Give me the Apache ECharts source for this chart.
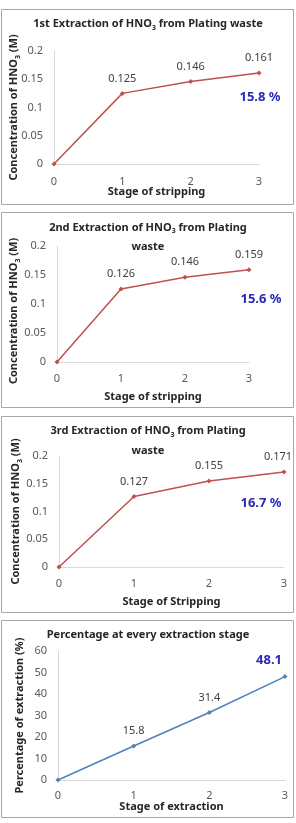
<!DOCTYPE html>
<html>
<head>
<meta charset="utf-8">
<script src="https://cdn.jsdelivr.net/npm/echarts@6/dist/echarts.min.js"></script>
<style>
  html, body { margin: 0; padding: 0; background: #fff; }
  #chart { width: 296px; height: 823px; }
</style>
</head>
<body>
<div id="chart"></div>
<script>
// data
const stages = ["0", "1", "2", "3"];
const ext1 = [0, 0.125, 0.146, 0.161];
const ext2 = [0, 0.126, 0.146, 0.159];
const ext3 = [0, 0.127, 0.155, 0.171];
const pctTotal = [0, 15.8, 31.4, 48.1];
const extPercent = ["15.8 %", "15.6 %", "16.7 %"];
const titles = [
  "1st Extraction of HNO{sub|3} from Plating waste",
  "2nd Extraction of HNO{sub|3} from Plating\nwaste",
  "3rd Extraction of HNO{sub|3} from Plating\nwaste",
  "Percentage at every extraction stage",
];
const xNames = ["Stage of stripping", "Stage of stripping", "Stage of Stripping", "Stage of extraction"];
const yNames = [
  "Concentration of HNO{sub|3} (M)",
  "Concentration of HNO{sub|3} (M)",
  "Concentration of HNO{sub|3} (M)",
  "Percentage of extraction (%)",
];

const FONT = "Noto Sans";
const RED = "#c0504d";
const BLUE = "#4f81bd";
const ANNOT = "#2a2ab8";

// panel frames [x, y, w, h]
const frames = [
  [1.5, 9.5, 292, 195],
  [1.5, 212.5, 292, 195],
  [1.5, 416.5, 292, 196],
  [1.5, 620.5, 292, 197],
];
const grids = [
  { left: 54, top: 51, width: 205, height: 113, outerBoundsMode: "none" },
  { left: 57, top: 246, width: 192, height: 116, outerBoundsMode: "none" },
  { left: 59, top: 456, width: 225, height: 111, outerBoundsMode: "none" },
  { left: 58, top: 651, width: 227, height: 129, outerBoundsMode: "none" },
];
const titleTops = [16, 218, 421, 627];
const titleLH = [16, 19, 20, 16];
const xNameGap = [22, 29, 29, 21];
const xLabelMargin = [12, 11, 11, 10];
const yNameGap = [33, 36, 36, 33];
const yNamePad = [[0, 0, 0, 0], [0, 14, 0, 0], [0, 0, 0, 0], [0, 0, 0, 0]];

// subscript "3" in HNO3
const subRich = {
  sub: { fontSize: 7, fontWeight: "bold", fontFamily: FONT, color: "#262626", verticalAlign: "middle", padding: [7, 0, 0, 0] },
};

function labelData(values, lastOffset) {
  return values.map((v, i) => {
    if (i === 0) return { value: v, label: { show: false } };
    if (i === values.length - 1 && lastOffset) return { value: v, label: { offset: lastOffset } };
    return v;
  });
}

const seriesData = [ext1, ext2, ext3];
const lastOffsets = [null, null, [-6, 0]];

let option = {
  backgroundColor: "#fff",
  animation: false,
  title: titles.map((t, i) => ({
    text: t,
    left: "center",
    top: titleTops[i],
    padding: 0,
    textStyle: {
      fontFamily: FONT,
      fontSize: 11,
      fontWeight: "bold",
      color: "#262626",
      lineHeight: titleLH[i],
      rich: subRich,
    },
  })),
  grid: grids,
  xAxis: grids.map((g, i) => ({
    gridIndex: i,
    type: "category",
    boundaryGap: false,
    data: stages,
    name: xNames[i],
    nameLocation: "middle",
    nameGap: xNameGap[i],
    nameMoveOverlap: false,
    nameTextStyle: { fontFamily: FONT, fontSize: 11, fontWeight: "bold", color: "#262626" },
    axisLine: { lineStyle: { color: "#d9d9d9" } },
    axisTick: { show: false },
    axisLabel: { margin: xLabelMargin[i], fontFamily: FONT, fontSize: 11, color: "#595959" },
    splitLine: { show: false },
  })),
  yAxis: grids.map((g, i) => ({
    gridIndex: i,
    type: "value",
    min: 0,
    max: i < 3 ? 0.2 : 60,
    interval: i < 3 ? 0.05 : 10,
    name: yNames[i],
    nameLocation: "middle",
    nameRotate: 90,
    nameGap: yNameGap[i],
    nameMoveOverlap: false,
    nameTextStyle: {
      fontFamily: FONT,
      fontSize: 11,
      fontWeight: "bold",
      color: "#262626",
      padding: yNamePad[i],
      rich: subRich,
    },
    axisLine: { show: true, lineStyle: { color: "#d9d9d9" } },
    axisTick: { show: false },
    axisLabel: { margin: 11, fontFamily: FONT, fontSize: 11, color: "#595959" },
    splitLine: { show: false },
  })),
  series: [
    ...seriesData.map((d, i) => ({
      type: "line",
      xAxisIndex: i,
      yAxisIndex: i,
      data: labelData(d, lastOffsets[i]),
      symbol: "diamond",
      symbolSize: 5,
      lineStyle: { color: RED, width: 1.5 },
      itemStyle: { color: RED },
      label: { show: true, position: "top", distance: 7, fontFamily: FONT, fontSize: 11, color: "#404040" },
    })),
    {
      type: "line",
      xAxisIndex: 3,
      yAxisIndex: 3,
      data: pctTotal.map((v, i) => {
        if (i === 0) return { value: v, label: { show: false } };
        if (i === pctTotal.length - 1)
          return {
            value: v,
            label: { fontSize: 13, fontWeight: "bold", color: ANNOT, offset: [-16, 0], distance: 7 },
          };
        return v;
      }),
      symbol: "diamond",
      symbolSize: 5,
      lineStyle: { color: BLUE, width: 1.5 },
      itemStyle: { color: BLUE },
      label: { show: true, position: "top", distance: 7, fontFamily: FONT, fontSize: 11, color: "#404040" },
    },
  ],
  graphic: [
    ...frames.map((f) => ({
      type: "rect",
      silent: true,
      z: -1,
      shape: { x: f[0], y: f[1], width: f[2], height: f[3] },
      style: { fill: null, stroke: "#a6a6a6", lineWidth: 1 },
    })),
    ...[[260, 97], [261, 299], [261, 503]].map((p, i) => ({
      type: "text",
      silent: true,
      x: p[0],
      y: p[1],
      style: {
        text: extPercent[i],
        fontFamily: FONT,
        fontSize: 13,
        fontWeight: "bold",
        fill: ANNOT,
        align: "center",
        verticalAlign: "middle",
      },
    })),
  ],
};

let chart = echarts.init(document.getElementById("chart"));
chart.setOption(option);
</script>
</body>
</html>
